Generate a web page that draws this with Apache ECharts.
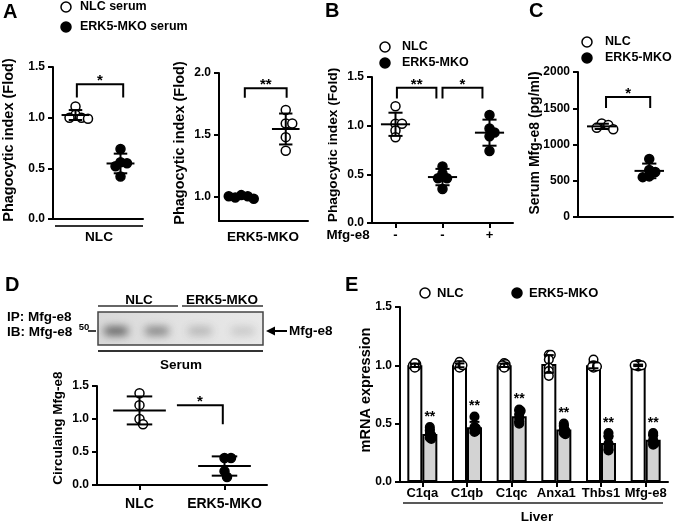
<!DOCTYPE html>
<html><head><meta charset="utf-8">
<script src="https://cdn.jsdelivr.net/npm/echarts@6/dist/echarts.min.js"></script>
<style>html,body{margin:0;padding:0;background:#fff}#c{width:675px;height:530px}</style>
</head><body><div id="c"></div>
<script>
// ---------------- DATA ----------------
// Panel A, left plot (NLC macrophages)
const aLeftGroups = ['NLC serum', 'ERK5-MKO serum'];
const aLeftNlcSerum = [1.11, 1.03, 1.00, 1.00, 0.99];
const aLeftKoSerum = [0.69, 0.56, 0.55, 0.52, 0.42];
const aLeftTicks = [0, 0.5, 1.0, 1.5];
// Panel A, right plot (ERK5-MKO macrophages)
const aRightGroups = ['ERK5-MKO serum', 'NLC serum'];
const aRightKoSerum = [1.01, 1.00, 0.99, 0.98, 1.00];
const aRightNlcSerum = [1.70, 1.59, 1.59, 1.48, 1.37];
const aRightTicks = [1.0, 1.5, 2.0];
// Panel B
const bGroups = ['g1', 'g2', 'g3'];
const bMfgLabels = ['-', '-', '+'];
const bNlc = [1.20, 1.02, 1.02, 0.95, 0.88];
const bKo = [0.58, 0.51, 0.46, 0.46, 0.35];
const bKoMfg = [1.11, 0.97, 0.93, 0.89, 0.74];
const bTicks = [0, 0.5, 1.0, 1.5];
// Panel C
const cGroups = ['NLC', 'ERK5-MKO'];
const cNlc = [1290, 1270, 1230, 1210];
const cKo = [800, 650, 620, 560, 550];
const cTicks = [0, 500, 1000, 1500, 2000];
// Panel D
const dGroups = ['NLC', 'ERK5-MKO'];
const dNlc = [1.39, 1.21, 1.00, 0.92];
const dKo = [0.41, 0.41, 0.21, 0.12];
const dTicks = [0, 0.5, 1.0, 1.5];
const blotLanes = ['NLC', 'NLC', 'ERK5-MKO', 'ERK5-MKO'];
const blotIntensity = [0.85, 0.62, 0.30, 0.20];
// Panel E
const eGenes = ['C1qa', 'C1qb', 'C1qc', 'Anxa1', 'Thbs1', 'Mfg-e8'];
const eNlc = [
  [1.00, 1.01, 0.99, 1.00, 1.02, 0.98],
  [1.03, 1.00, 0.99, 1.00, 0.98, 1.00],
  [1.02, 1.00, 1.01, 0.99, 1.00, 0.98],
  [1.09, 1.09, 1.05, 0.98, 0.95, 0.91],
  [1.05, 1.00, 0.99, 0.98, 0.99, 0.99],
  [1.01, 1.00, 0.99, 1.00, 1.00, 1.00]
];
const eKo = [
  [0.47, 0.44, 0.41, 0.40, 0.38, 0.37],
  [0.56, 0.47, 0.46, 0.45, 0.44, 0.43],
  [0.62, 0.61, 0.58, 0.55, 0.52, 0.50],
  [0.50, 0.48, 0.45, 0.44, 0.42, 0.41],
  [0.42, 0.39, 0.33, 0.31, 0.29, 0.27],
  [0.42, 0.40, 0.36, 0.34, 0.33, 0.32]
];
const eTicks = [0, 0.5, 1.0, 1.5];

// ---------------- HELPERS ----------------
const FF = '"Liberation Sans", Arial, Helvetica, sans-serif';
const mean = a => a.reduce((s, v) => s + v, 0) / a.length;
const sd = a => { const m = mean(a); return Math.sqrt(a.reduce((s, v) => s + (v - m) * (v - m), 0) / (a.length - 1)); };

function layoutSwarm(ys, minD) {
  const placed = [];
  ys.forEach(y => {
    let off = 0;
    for (let k = 0; k < 400; k++) {
      const o = k === 0 ? 0 : (k % 2 ? 1 : -1) * Math.ceil(k / 2) * 0.5;
      if (placed.every(p => (p.dx - o) * (p.dx - o) + (p.y - y) * (p.y - y) >= minD * minD)) { off = o; break; }
    }
    placed.push({ dx: off, y });
  });
  return placed;
}

function dotSeries(gi, groups, cfg) {
  cfg = Object.assign({ r: 4.5, spread: 0.7, meanHalf: 0.31, capHalf: 0.15, showMean: true, z: 5, starSize: 14 }, cfg || {});
  return {
    type: 'custom', xAxisIndex: gi, yAxisIndex: gi, clip: false, silent: true, z: cfg.z,
    data: groups.map(g => [g.cat, mean(g.values)]),
    renderItem(params, api) {
      const g = groups[params.dataIndex];
      const band = api.size([1, 0])[0];
      const cx = api.coord([g.cat, 0])[0] + (g.dxPx || 0);
      const m = mean(g.values), s = sd(g.values);
      const ys = g.values.map(v => api.coord([g.cat, v])[1]);
      const sw = layoutSwarm(ys, cfg.r * 2 * cfg.spread);
      const ch = sw.map(p => ({ type: 'circle', shape: { cx: cx + p.dx, cy: p.y, r: cfg.r },
        style: { fill: g.filled ? '#000' : '#fff', stroke: '#000', lineWidth: 1.5 } }));
      const ym = api.coord([g.cat, m])[1], yt = api.coord([g.cat, m + s])[1], yb = api.coord([g.cat, m - s])[1];
      const ls = { stroke: '#000', lineWidth: 2 };
      const mh = band * cfg.meanHalf, chh = band * cfg.capHalf;
      if (cfg.showMean) ch.push({ type: 'line', shape: { x1: cx - mh, y1: ym, x2: cx + mh, y2: ym }, style: ls });
      ch.push({ type: 'line', shape: { x1: cx, y1: yt, x2: cx, y2: yb }, style: ls });
      ch.push({ type: 'line', shape: { x1: cx - chh, y1: yt, x2: cx + chh, y2: yt }, style: ls });
      ch.push({ type: 'line', shape: { x1: cx - chh, y1: yb, x2: cx + chh, y2: yb }, style: ls });
      if (g.star) {
        const top = Math.min.apply(null, ys) - cfg.r - 6;
        ch.push({ type: 'text', x: cx, y: top, style: { text: g.star, fill: '#000', font: 'bold ' + cfg.starSize + 'px ' + FF,
          textAlign: 'center', textVerticalAlign: 'middle', align: 'center', verticalAlign: 'middle' } });
      }
      return { type: 'group', children: ch };
    }
  };
}

function bracketSeries(gi, brackets) {
  return {
    type: 'custom', xAxisIndex: gi, yAxisIndex: gi, clip: false, silent: true, z: 6,
    data: brackets.map(b => [b.x1, b.top]),
    renderItem(params, api) {
      const b = brackets[params.dataIndex];
      const band = api.size([1, 0])[0];
      const X1 = api.coord([b.x1, b.top])[0] + (b.dx1 || 0) * band;
      const X2 = api.coord([b.x2, b.top])[0] + (b.dx2 || 0) * band;
      const Y = api.coord([b.x1, b.top])[1];
      const pts = [];
      if (b.left != null) pts.push([X1, api.coord([b.x1, b.left])[1]]);
      pts.push([X1, Y], [X2, Y]);
      if (b.right != null) pts.push([X2, api.coord([b.x2, b.right])[1]]);
      return { type: 'group', children: [
        { type: 'polyline', shape: { points: pts }, style: { stroke: '#000', lineWidth: 2, fill: null } },
        { type: 'text', x: (X1 + X2) / 2, y: Y - 3, style: { text: b.text, fill: '#000', font: 'bold 15px ' + FF,
          textAlign: 'center', textVerticalAlign: 'middle', align: 'center', verticalAlign: 'middle' } }
      ] };
    }
  };
}

function yAx(gi, min, max, ticks, fmt, margin) {
  return { type: 'value', gridIndex: gi, min: min, max: max,
    axisLine: { show: true, lineStyle: { color: '#000', width: 2 } },
    axisTick: { show: true, inside: false, length: 5, lineStyle: { color: '#000', width: 2 }, customValues: ticks },
    axisLabel: { customValues: ticks, formatter: fmt, color: '#000', fontWeight: 'bold', fontSize: 12, fontFamily: FF, margin: margin || 8 },
    splitLine: { show: false } };
}
function xAx(gi, cats, o) {
  o = o || {};
  return { type: 'category', gridIndex: gi, data: cats, boundaryGap: true,
    axisLine: { show: true, onZero: false, lineStyle: { color: '#000', width: 2 } },
    axisTick: { show: !!o.ticks, alignWithLabel: true, interval: 0, length: 5, lineStyle: { color: '#000', width: 2 } },
    axisLabel: { show: !!o.labels, interval: 0, hideOverlap: false, formatter: o.fmt, color: '#000', fontWeight: 'bold', fontSize: o.fs || 13, fontFamily: FF, margin: o.margin || 6 },
    splitLine: { show: false } };
}
const f1 = v => Number(v).toFixed(1);

function T(x, y, text, size, o) {
  o = o || {};
  return { type: 'text', x: x, y: y, rotation: o.rot || 0, silent: true,
    style: { text: text, fill: o.color || '#000', font: 'bold ' + size + 'px ' + FF,
      textAlign: o.align || 'center', textVerticalAlign: 'middle', align: o.align || 'center', verticalAlign: 'middle' } };
}
function L(x1, y1, x2, y2, w, c) {
  return { type: 'line', silent: true, shape: { x1, y1, x2, y2 }, style: { stroke: c || '#000', lineWidth: w || 2 } };
}
function Cir(cx, cy, filled) {
  return { type: 'circle', silent: true, shape: { cx, cy, r: 5 }, style: { fill: filled ? '#000' : '#fff', stroke: '#000', lineWidth: 1.5 } };
}

// ---------------- GRAPHICS (labels, legends, blot) ----------------
const R90 = Math.PI / 2;
const g = [
  T(3, 12, 'A', 20, { align: 'left' }), T(325, 11, 'B', 20, { align: 'left' }), T(529, 11, 'C', 20, { align: 'left' }),
  T(5, 285, 'D', 20, { align: 'left' }), T(345, 285, 'E', 20, { align: 'left' }),
  // legends
  Cir(66, 7, false), T(80, 7, aLeftGroups[0], 12.5, { align: 'left' }),
  Cir(66, 27, true), T(80, 27, aLeftGroups[1], 12.5, { align: 'left' }),
  Cir(385, 47, false), T(402, 47, 'NLC', 12.5, { align: 'left' }),
  Cir(385, 63, true), T(402, 63, 'ERK5-MKO', 12.5, { align: 'left' }),
  Cir(587, 42, false), T(605, 42, 'NLC', 12.5, { align: 'left' }),
  Cir(587, 58, true), T(605, 58, 'ERK5-MKO', 12.5, { align: 'left' }),
  Cir(425, 293, false), T(437, 293, 'NLC', 13, { align: 'left' }),
  Cir(517, 293, true), T(529, 293, 'ERK5-MKO', 13, { align: 'left' }),
  // axis titles
  T(9, 140, 'Phagocytic index (Flod)', 14.5, { rot: R90 }),
  T(180, 143, 'Phagocytic index (Flod)', 14.5, { rot: R90 }),
  T(333, 145, 'Phagocytic index (Fold)', 13.7, { rot: R90 }),
  T(535, 143, 'Serum Mfg-e8 (pg/ml)', 14, { rot: R90 }),
  T(58, 428, 'Circulaing Mfg-e8', 13.5, { rot: R90 }),
  T(366, 390, 'mRNA expression', 14.5, { rot: R90 }),
  // under-axis texts
  L(55, 226, 143, 226, 2, '#333'), T(99, 237, 'NLC', 13.6),
  T(263, 237, 'ERK5-MKO', 13.5),
  T(348, 235, 'Mfg-e8', 13.4),
  L(403, 503, 663, 503, 1.5, '#222'), T(537, 517, 'Liver', 13.5),
  // blot
  T(139, 300, 'NLC', 13.5), T(222, 300, 'ERK5-MKO', 13.5),
  L(98, 306, 178, 306, 1.5, '#333'), L(182, 306, 263, 306, 1.5, '#333'),
  { type: 'rect', silent: true, shape: { x: 98, y: 312, width: 165, height: 33 },
    style: { fill: { type: 'linear', x: 0, y: 0, x2: 1, y2: 0, colorStops: [{ offset: 0, color: '#d8d8d8' }, { offset: 0.5, color: '#e2e2e2' }, { offset: 1, color: '#e8e8e8' }] },
      stroke: '#444', lineWidth: 1.5 } },
  L(98, 351, 263, 351, 2, '#333'), T(181, 365, 'Serum', 13.5),
  T(7, 317, 'IP: Mfg-e8', 13.5, { align: 'left' }), T(7, 332, 'IB: Mfg-e8', 13.5, { align: 'left' }),
  T(84, 327, '50', 9.5), L(88, 331, 96, 331, 1.5),
  L(273, 331, 287, 331, 2), { type: 'polygon', silent: true, shape: { points: [[266, 331], [275, 326.5], [275, 335.5]] }, style: { fill: '#000' } },
  T(289, 331, 'Mfg-e8', 13.5, { align: 'left' })
];
const laneX = [116, 157, 200, 243];
blotLanes.forEach((ln, i) => {
  const a = blotIntensity[i];
  g.push({ type: 'rect', silent: true, shape: { x: laneX[i] - 12 - 2000, y: 327, width: 24, height: 8, r: 4 },
    style: { fill: '#000', shadowBlur: 9, shadowColor: 'rgba(60,60,60,' + a + ')', shadowOffsetX: 2000, shadowOffsetY: 0 } });
});

// ---------------- OPTION ----------------
const eGroupsDots = [];
eGenes.forEach((gn, i) => {
  eGroupsDots.push({ cat: i, values: eNlc[i], filled: false, dxPx: -7.5 });
  eGroupsDots.push({ cat: i, values: eKo[i], filled: true, dxPx: 7.5, star: '**' });
});

const option = {
  animation: false,
  backgroundColor: '#fff',
  grid: [
    { left: 53, top: 67, width: 90, height: 152, outerBoundsMode: 'none' },
    { left: 219, top: 73, width: 89, height: 148, outerBoundsMode: 'none' },
    { left: 372, top: 77, width: 141, height: 146, outerBoundsMode: 'none' },
    { left: 578, top: 72, width: 95, height: 145, outerBoundsMode: 'none' },
    { left: 97, top: 386, width: 170, height: 99, outerBoundsMode: 'none' },
    { left: 400, top: 307, width: 268, height: 175, outerBoundsMode: 'none' }
  ],
  xAxis: [
    xAx(0, aLeftGroups),
    xAx(1, aRightGroups),
    xAx(2, bGroups, { ticks: true, labels: true, fmt: (v, i) => bMfgLabels[i], fs: 13, margin: 6 }),
    xAx(3, cGroups),
    xAx(4, dGroups, { ticks: true, labels: true, fs: 14, margin: 12 }),
    xAx(5, eGenes, { ticks: true, labels: true, fs: 13, margin: 5 })
  ],
  yAxis: [
    yAx(0, 0, 1.5, aLeftTicks, f1),
    yAx(1, 0.8, 2.0, aRightTicks, f1),
    yAx(2, 0, 1.5, bTicks, f1),
    yAx(3, 0, 2000, cTicks, v => String(v)),
    yAx(4, 0, 1.5, dTicks, f1),
    yAx(5, 0, 1.5, eTicks, f1, 8)
  ],
  series: [
    dotSeries(0, [{ cat: 0, values: aLeftNlcSerum, filled: false }, { cat: 1, values: aLeftKoSerum, filled: true }]),
    bracketSeries(0, [{ x1: 0, x2: 1, dx1: 0.03, dx2: 0.06, top: 1.33, left: 1.20, right: 1.20, text: '*' }]),
    dotSeries(1, [{ cat: 0, values: aRightKoSerum, filled: true }, { cat: 1, values: aRightNlcSerum, filled: false }]),
    bracketSeries(1, [{ x1: 0, x2: 1, dx1: 0.08, dx2: 0.02, top: 1.877, left: 1.80, right: 1.80, text: '**' }]),
    dotSeries(2, [{ cat: 0, values: bNlc, filled: false }, { cat: 1, values: bKo, filled: true }, { cat: 2, values: bKoMfg, filled: true }]),
    bracketSeries(2, [
      { x1: 0, x2: 1, dx1: 0.03, dx2: -0.13, top: 1.39, left: 1.28, right: 1.28, text: '**' },
      { x1: 1, x2: 2, dx1: 0.0, dx2: -0.15, top: 1.39, left: 1.28, right: 1.28, text: '*' }
    ]),
    dotSeries(3, [{ cat: 0, values: cNlc, filled: false }, { cat: 1, values: cKo, filled: true }]),
    bracketSeries(3, [{ x1: 0, x2: 1, dx1: 0.09, dx2: 0.02, top: 1655, left: 1503, right: 1503, text: '*' }]),
    dotSeries(4, [{ cat: 0, values: dNlc, filled: false }, { cat: 1, values: dKo, filled: true }]),
    bracketSeries(4, [{ x1: 0, x2: 1, dx1: 0.44, dx2: -0.02, top: 1.21, left: null, right: 0.92, text: '*' }]),
    { type: 'bar', xAxisIndex: 5, yAxisIndex: 5, data: eNlc.map(mean), barWidth: 15, barGap: '0%', silent: true, z: 2,
      itemStyle: { color: '#fff', borderColor: '#000', borderWidth: 2 } },
    { type: 'bar', xAxisIndex: 5, yAxisIndex: 5, data: eKo.map(mean), barWidth: 15, barGap: '0%', silent: true, z: 2,
      itemStyle: { color: '#d3d3d3', borderColor: '#000', borderWidth: 2 } },
    dotSeries(5, eGroupsDots, { showMean: false, capHalf: 0.11, spread: 0.22, r: 4.3, starSize: 14 })
  ],
  graphic: { elements: g }
};

const chart = echarts.init(document.getElementById('c'));
chart.setOption(option);
</script>
</body></html>
